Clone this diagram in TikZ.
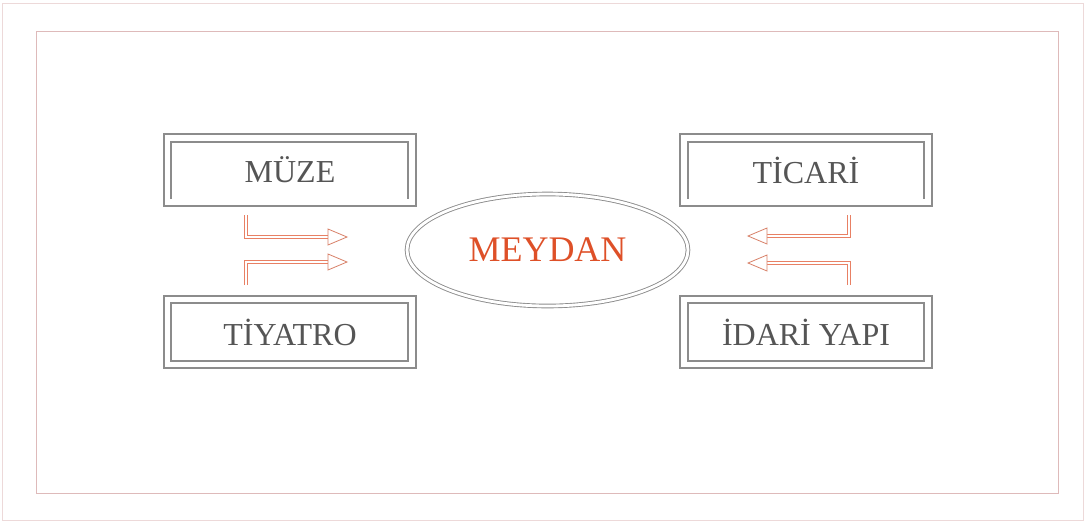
\documentclass[tikz,border=0pt]{standalone}
\usepackage{fontspec}
\setmainfont{Liberation Serif}
\usetikzlibrary{shapes.geometric}
\definecolor{framepink}{RGB}{222,186,186}
\definecolor{boxgray}{RGB}{140,140,140}
\definecolor{txtgray}{RGB}{85,85,85}
\definecolor{meyred}{RGB}{222,80,40}
\definecolor{arrsalmon}{RGB}{232,128,100}
\tikzset{
  yerbox/.style={draw=boxgray, line width=1.5pt, minimum width=252pt, minimum height=72pt,
    text=txtgray, font=\fontsize{32}{32}\selectfont},
  icline/.style={draw=boxgray, line width=1.1pt},
  akis/.style={draw=arrsalmon, line width=0.9pt, double=white, double distance=1.4pt},
  ucgen/.style={draw=arrsalmon!85!gray, line width=0.8pt, fill=white, line join=miter},
}

\begin{document}
\begin{tikzpicture}[x=1pt, y=-1pt]
  \useasboundingbox (0,0) rectangle (1085,523);
  \draw[framepink!55, line width=1pt] (2,3) rectangle (1083,520);
  \draw[framepink, line width=1pt] (36,31) rectangle (1058,493);

  \node[yerbox] (muze) at (290,170) {MÜZE};
  \node[yerbox] (tiyatro) at (290,332) {TİYATRO};
  \node[yerbox] (ticari) at (806,170) {TİCARİ};
  \node[yerbox] (idari) at (806,332) {İDARİ YAPI};
  \draw[icline] (171,199) |- (408,142) -- (408,199);
  \draw[icline] (171,303) rectangle (408,361);
  \draw[icline] (688,199) |- (924,142) -- (924,199);
  \draw[icline] (688,303) rectangle (924,361);

  \node[ellipse, draw=boxgray, line width=0.9pt, double=white, double distance=2.8pt,
    minimum width=281pt, minimum height=112pt, text=meyred,
    font=\fontsize{36}{36}\selectfont] (meydan) at (547.5,250) {MEYDAN};

  \coordinate (mz1) at (246,215);
  \coordinate (mz2) at (328,237);
  \coordinate (ty1) at (246,285);
  \coordinate (ty2) at (328,262);
  \coordinate (tc1) at (849,215);
  \coordinate (tc2) at (767,236);
  \coordinate (id1) at (849,285);
  \coordinate (id2) at (767,263);
  \draw[akis] (mz1) |- (mz2);
  \draw[akis] (ty1) |- (ty2);
  \draw[akis] (tc1) |- (tc2);
  \draw[akis] (id1) |- (id2);
  \draw[ucgen] (mz2) ++(19,0) -- ++(-19,-8) -- ++(0,16) -- cycle;
  \draw[ucgen] (ty2) ++(19,0) -- ++(-19,-8) -- ++(0,16) -- cycle;
  \draw[ucgen] (tc2) ++(-19,0) -- ++(19,-8) -- ++(0,16) -- cycle;
  \draw[ucgen] (id2) ++(-19,0) -- ++(19,-8) -- ++(0,16) -- cycle;
\end{tikzpicture}
\end{document}
